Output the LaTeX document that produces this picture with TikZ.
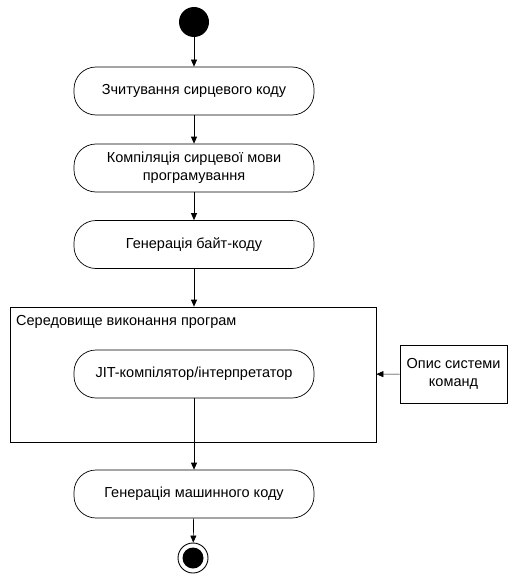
\documentclass[tikz,border=0pt]{standalone}
\usepackage{fontspec}
\setmainfont{Liberation Sans}
\usetikzlibrary{arrows.meta,positioning}

\tikzset{
  act/.style={draw, fill=white, rounded corners=22pt, minimum width=240pt,
    minimum height=48pt, align=center, line width=0.7pt,
    font=\fontsize{14.5}{18}\selectfont},
  flow/.style={-{Triangle[width=6pt,length=7pt]}, line width=0.7pt},
}

\begin{document}
\begin{tikzpicture}[x=1pt,y=-1pt]
  \useasboundingbox (0,0) rectangle (508,575);

  % start / end
  \node[circle, fill=black, minimum size=30pt, inner sep=0pt] (start) at (194,22) {};
  \node[circle, draw, line width=0.9pt, minimum size=30pt, inner sep=0pt] (end) at (193,558) {};
  \node[circle, fill=black, minimum size=21pt, inner sep=0pt] (enddot) at (end) {};

  % actions
  \node[act] (read) at (194,91) {Зчитування сирцевого коду};
  \node[act] (compile) at (194,168) {Компіляція сирцевої мови\\програмування};
  \node[act] (bytecode) at (194,244.5) {Генерація байт-коду};

  % runtime environment
  \node[draw, line width=0.7pt, minimum width=366pt, minimum height=135pt, inner sep=0pt] (env) at (193,374.5) {};
  \node[anchor=west, inner sep=0pt, font=\fontsize{14.5}{18}\selectfont] (envlabel) at (16,322) {Середовище виконання програм};
  \node[act] (jit) at (194,374) {JIT-компілятор/інтерпретатор};

  \node[draw, line width=0.7pt, minimum width=107pt, minimum height=58pt, align=center,
    font=\fontsize{14.5}{18}\selectfont] (isa) at (453.5,374) {Опис системи\\команд};

  \node[act] (machine) at (194,494) {Генерація машинного коду};

  % connectors
  \draw[flow] (start) -- (read);
  \draw[flow] (read) -- (compile);
  \draw[flow] (compile) -- (bytecode);
  \draw[flow] (bytecode) -- (bytecode |- env.north);
  \draw[flow] (isa) -- (env);
  \draw[flow] (jit) -- (machine);
  \draw[flow] (machine) -- (end);
\end{tikzpicture}
\end{document}
